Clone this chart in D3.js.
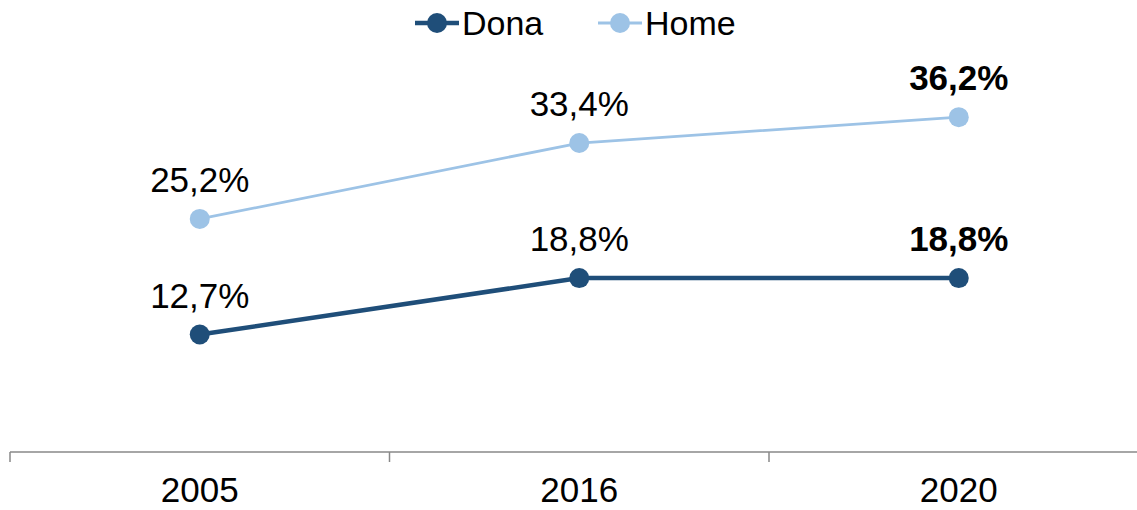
<!DOCTYPE html>
<html><head><meta charset="utf-8">
<script src="https://cdn.jsdelivr.net/npm/d3@7"></script>
<style>body{margin:0;background:#fff}svg{display:block;font-family:"Liberation Sans",Arial,sans-serif}</style>
</head><body><svg id="c" width="1137" height="510"></svg>
<script>
const categories = ["2005", "2016", "2020"];
const dona = [12.7, 18.8, 18.8];
const home = [25.2, 33.4, 36.2];
const donaLabels = ["12,7%", "18,8%", "18,8%"];
const homeLabels = ["25,2%", "33,4%", "36,2%"];
const seriesNames = ["Dona", "Home"];

const svg = d3.select("#c");
const x = d3.scaleBand().domain(categories).range([10, 1148.5]);
const y = d3.scaleLinear().domain([0, 40]).range([452, 82]);
const cx = d => x(d) + x.bandwidth() / 2;

const series = [
  {name: seriesNames[0], values: dona, labels: donaLabels, color: "#1f4e79", width: 4.5},
  {name: seriesNames[1], values: home, labels: homeLabels, color: "#9dc3e6", width: 2.8}
];

// axis
const ax = svg.append("g").attr("transform", "translate(0,452)")
  .call(d3.axisBottom(x).tickSize(0).tickPadding(0).tickFormat(""));
ax.select(".domain").remove();
ax.append("line").attr("x1", 10).attr("x2", 1137).attr("stroke", "#888").attr("stroke-width", 1.5);
const tickPos = [0, 1, 2, 3].map(i => 10 + i * x.step());
ax.selectAll(".tk").data(tickPos).enter().append("line")
  .attr("x1", d => d).attr("x2", d => d).attr("y1", 0).attr("y2", 10)
  .attr("stroke", "#888").attr("stroke-width", 1.5);
svg.selectAll(".xl").data(categories).enter().append("text")
  .attr("x", d => cx(d)).attr("y", 502).attr("text-anchor", "middle")
  .attr("font-size", 35).attr("fill", "#000").text(d => d);

const line = d3.line().x((d, i) => cx(categories[i])).y(d => y(d));
series.forEach(s => {
  svg.append("path").datum(s.values).attr("d", line)
    .attr("fill", "none").attr("stroke", s.color).attr("stroke-width", s.width);
  svg.selectAll(null).data(s.values).enter().append("circle")
    .attr("cx", (d, i) => cx(categories[i])).attr("cy", d => y(d)).attr("r", 10)
    .attr("fill", s.color);
  svg.selectAll(null).data(s.values).enter().append("text")
    .attr("x", (d, i) => cx(categories[i])).attr("y", d => y(d) - 27)
    .attr("text-anchor", "middle").attr("font-size", 35)
    .attr("font-weight", (d, i) => i === 2 ? "bold" : "normal")
    .attr("fill", "#000").text((d, i) => s.labels[i]);
});

// legend
const legX = [415, 598];
series.forEach((s, i) => {
  const g = svg.append("g").attr("transform", `translate(${legX[i]},23)`);
  g.append("line").attr("x1", 0).attr("x2", 44).attr("stroke", s.color).attr("stroke-width", s.width);
  g.append("circle").attr("cx", 22).attr("r", 10).attr("fill", s.color);
  g.append("text").attr("x", 47).attr("y", 12).attr("font-size", 34).attr("fill", "#000").text(s.name);
});
</script></body></html>
